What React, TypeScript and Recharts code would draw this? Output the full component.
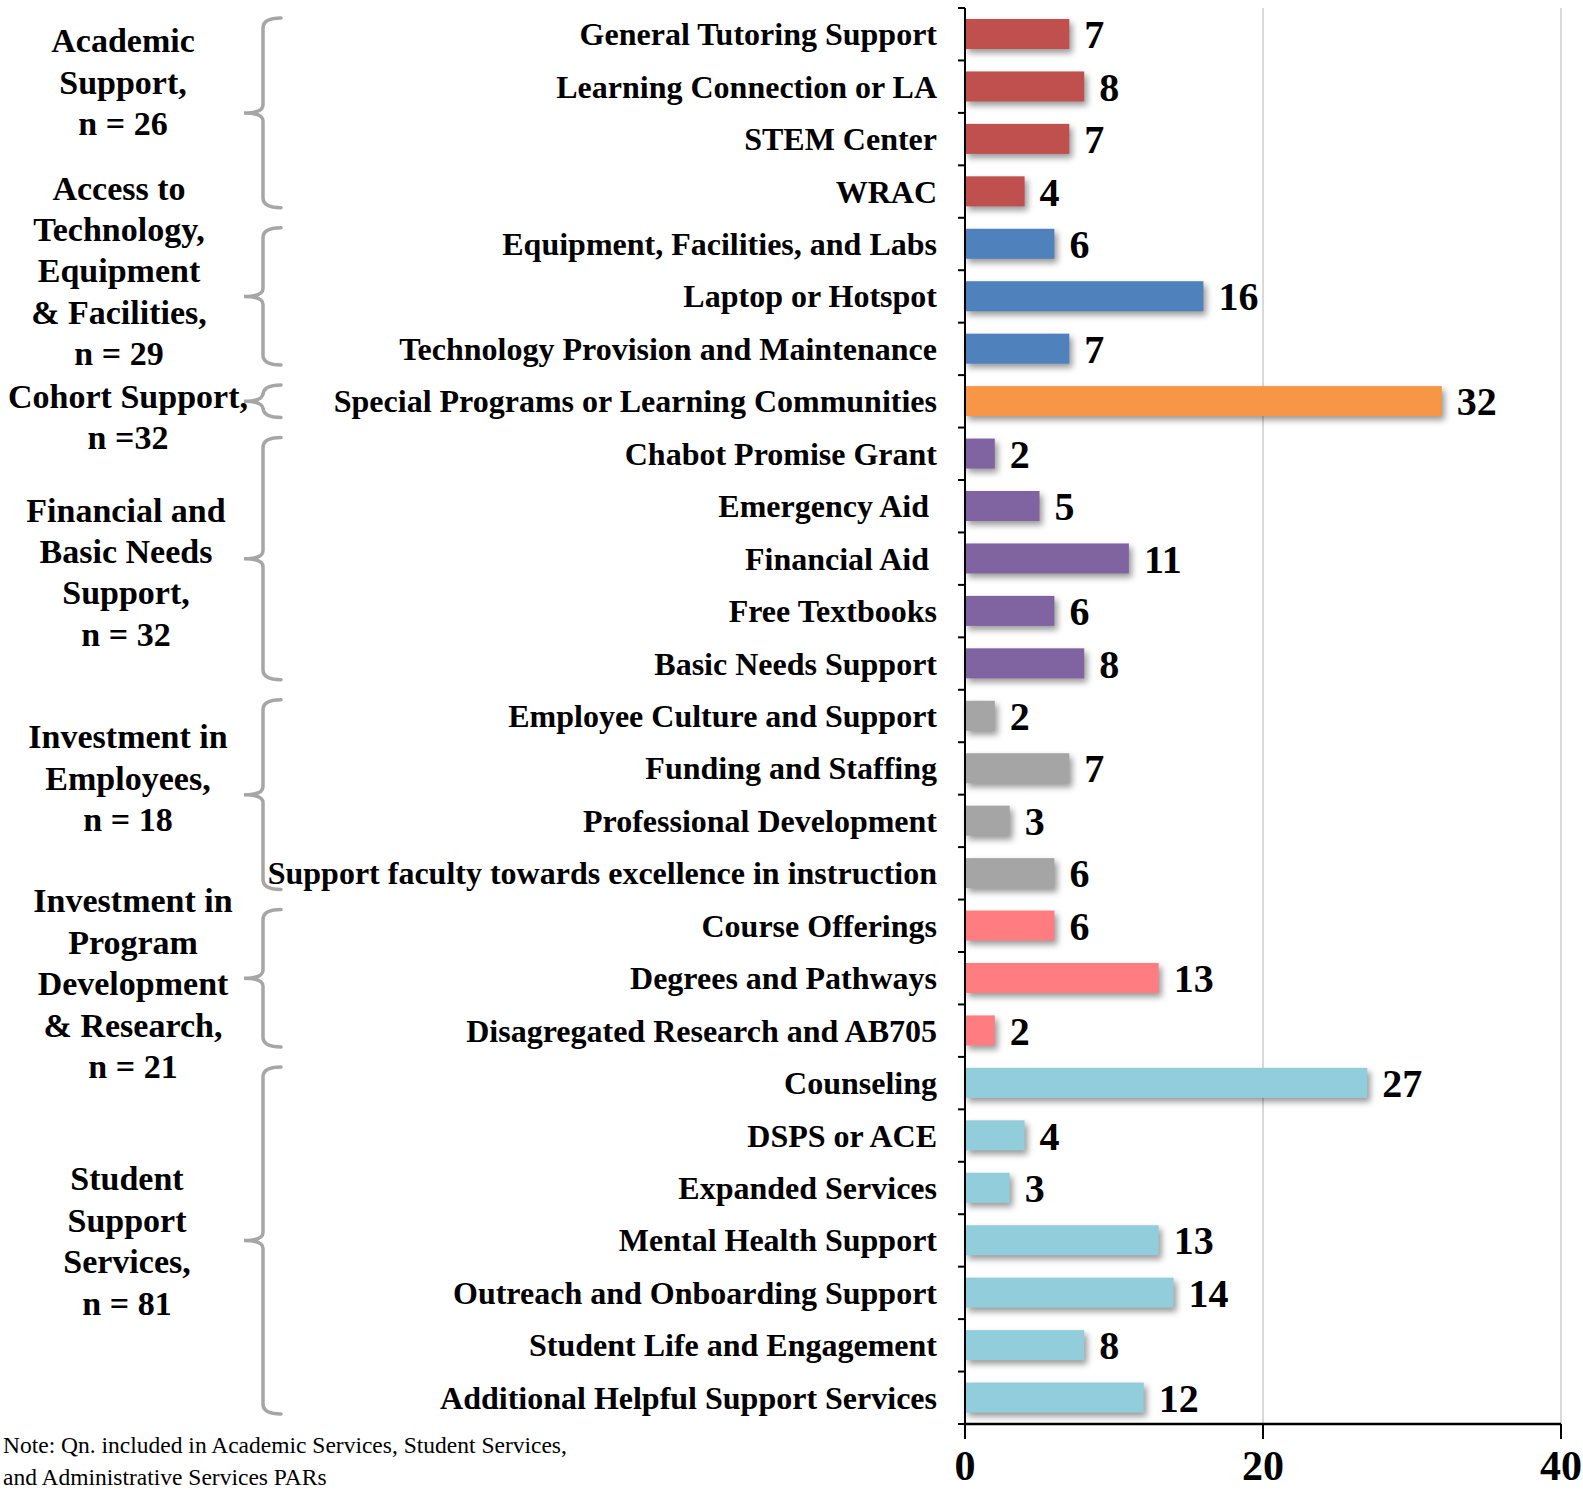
import React from "react";
import { BarChart, Bar, XAxis, YAxis, CartesianGrid, Cell, LabelList } from "recharts";

const categories = [
  "General Tutoring Support",
  "Learning Connection or LA",
  "STEM Center",
  "WRAC",
  "Equipment, Facilities, and Labs",
  "Laptop or Hotspot",
  "Technology Provision and Maintenance",
  "Special Programs or Learning Communities",
  "Chabot Promise Grant",
  "Emergency Aid\u00a0",
  "Financial Aid\u00a0",
  "Free Textbooks",
  "Basic Needs Support",
  "Employee Culture and Support",
  "Funding and Staffing",
  "Professional Development",
  "Support faculty towards excellence in instruction",
  "Course Offerings",
  "Degrees and Pathways",
  "Disagregated Research and AB705",
  "Counseling",
  "DSPS or ACE",
  "Expanded Services",
  "Mental Health Support",
  "Outreach and Onboarding Support",
  "Student Life and Engagement",
  "Additional Helpful Support Services",
];

const counts = [7, 8, 7, 4, 6, 16, 7, 32, 2, 5, 11, 6, 8, 2, 7, 3, 6, 6, 13, 2, 27, 4, 3, 13, 14, 8, 12];

const groupLabels = [
  ["Academic", "Support,", "n = 26"],
  ["Access to", "Technology,", "Equipment", "& Facilities,", "n = 29"],
  ["Cohort Support,", "n =32"],
  ["Financial and", "Basic Needs", "Support,", "n = 32"],
  ["Investment in", "Employees,", "n = 18"],
  ["Investment in", "Program", "Development", "& Research,", "n = 21"],
  ["Student", "Support", "Services,", "n = 81"],
];
const groupSizes = [4, 3, 1, 5, 4, 3, 7];
const groupColors = ["#C0504D", "#4F81BD", "#F79646", "#8064A2", "#A5A5A5", "#FF7C80", "#92CDDC"];

const xTicks = [0, 20, 40];

// layout
const WIDTH = 1583;
const HEIGHT = 1493;
const MARGIN_TOP = 8;
const Y_AXIS_W = 965;
const X_AXIS_H = 69;
const BAND = (HEIGHT - MARGIN_TOP - X_AXIS_H) / categories.length;
const FONT = '"Liberation Serif", "Times New Roman", serif';
const LINE_H = 41.4;

// hand placed group labels (nudge from group centre, and centre x)
const labelShiftY = [-31, -26, 15, 13, -17, 5, 0];
const labelCenterX = [123, 119, 128, 126, 128, 133, 127];

const groupStart: number[] = [];
let acc = 0;
groupSizes.forEach((s) => {
  groupStart.push(acc);
  acc += s;
});
const groupOfRow = categories.map((_, i) => {
  let g = 0;
  while (g + 1 < groupStart.length && groupStart[g + 1] <= i) g++;
  return g;
});

const tableData = categories.map((name, i) => ({
  name,
  count: counts[i],
  fill: groupColors[groupOfRow[i]],
}));

function CategoryTick(props: any) {
  const { x, y, payload } = props;
  const i = categories.indexOf(payload.value);
  const g = groupStart.indexOf(i);
  const rowTop = y - BAND / 2;

  let brace = null;
  if (g >= 0) {
    const top = rowTop + 10;
    const bottom = rowTop + groupSizes[g] * BAND - 10;
    const mid = (top + bottom) / 2;
    const lx = 263, hx = 281, px = 244;
    const d = `M${hx},${top} Q${lx},${top} ${lx},${top + 10} L${lx},${mid - 8} Q${lx},${mid} ${px},${mid} Q${lx},${mid} ${lx},${mid + 8} L${lx},${bottom - 10} Q${lx},${bottom} ${hx},${bottom}`;
    const lines = groupLabels[g];
    const centerY = rowTop + (groupSizes[g] * BAND) / 2 + labelShiftY[g];
    const firstY = centerY - ((lines.length - 1) * LINE_H) / 2;
    brace = (
      <g>
        <path d={d} fill="none" stroke="#A6A6A6" strokeWidth={3.5} strokeLinecap="round" />
        <text
          textAnchor="middle"
          dominantBaseline="central"
          fontFamily={FONT}
          fontWeight="bold"
          fontSize={34}
          fill="#000"
        >
          {lines.map((l, k) => (
            <tspan key={k} x={labelCenterX[g]} y={firstY + k * LINE_H}>
              {l}
            </tspan>
          ))}
        </text>
      </g>
    );
  }

  return (
    <g>
      <line x1={Y_AXIS_W - 7} x2={Y_AXIS_W} y1={rowTop} y2={rowTop} stroke="#000" strokeWidth={2} />
      {i === categories.length - 1 && (
        <line x1={Y_AXIS_W - 7} x2={Y_AXIS_W} y1={rowTop + BAND} y2={rowTop + BAND} stroke="#000" strokeWidth={2} />
      )}
      <text
        x={x}
        y={y}
        textAnchor="end"
        dominantBaseline="central"
        fontFamily={FONT}
        fontWeight="bold"
        fontSize={32}
        fill="#000"
      >
        {payload.value}
      </text>
      {brace}
    </g>
  );
}

function ShadowBar(props: any) {
  const { x, y, width, height, fill } = props;
  return (
    <rect
      x={x}
      y={y}
      width={width}
      height={height}
      fill={fill}
      style={{ filter: "drop-shadow(3px 4px 3px rgba(0,0,0,0.4))" }}
    />
  );
}

export default function App() {
  return (
    <div style={{ position: "absolute", left: 0, top: 0, width: WIDTH, height: HEIGHT, background: "#fff" }}>
      <BarChart
        width={WIDTH}
        height={HEIGHT}
        data={tableData}
        layout="vertical"
        barSize={30}
        margin={{ top: MARGIN_TOP, right: 22, bottom: 0, left: 0 }}
      >
        <CartesianGrid horizontal={false} stroke="#D9D9D9" strokeWidth={2} />
        <XAxis
          type="number"
          domain={[0, 40]}
          ticks={xTicks}
          interval={0}
          height={X_AXIS_H}
          tickSize={15}
          tickMargin={11}
          axisLine={{ stroke: "#000", strokeWidth: 2.5 }}
          tickLine={{ stroke: "#000", strokeWidth: 2 }}
          tick={{ fontSize: 42, fontWeight: "bold", fill: "#000", fontFamily: FONT }}
        />
        <YAxis
          type="category"
          dataKey="name"
          width={Y_AXIS_W}
          interval={0}
          tickSize={6}
          tickMargin={22}
          tickLine={false}
          axisLine={{ stroke: "#000", strokeWidth: 2 }}
          tick={<CategoryTick />}
        />
        <Bar dataKey="count" isAnimationActive={false} shape={<ShadowBar />}>
          {tableData.map((d, i) => (
            <Cell key={i} fill={d.fill} />
          ))}
          <LabelList
            dataKey="count"
            position="right"
            offset={15}
            style={{ fill: "#000", fontSize: 40, fontWeight: "bold", fontFamily: FONT }}
          />
        </Bar>
      </BarChart>
      <div
        style={{
          position: "absolute",
          left: 3,
          top: 1429,
          fontFamily: FONT,
          fontSize: 23.5,
          lineHeight: "32px",
          color: "#000",
        }}
      >
        Note: Qn. included in Academic Services, Student Services,
        <br />
        and Administrative Services PARs
      </div>
    </div>
  );
}
